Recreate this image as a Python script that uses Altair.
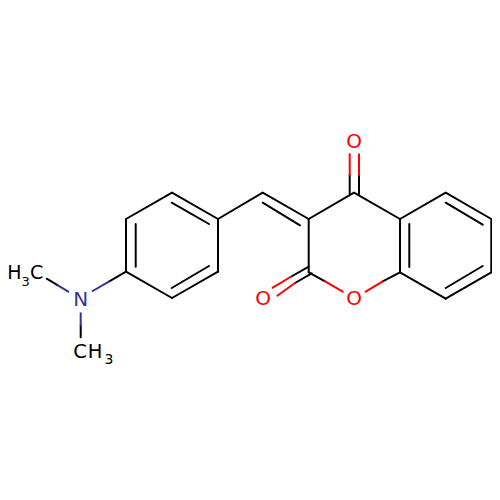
import altair as alt
import pandas as pd

black_bonds = [
    (172,192.7,218,219),(218,219,218,271.7),(218,271.7,172,298),
    (172,298,126,271.7),(126,271.7,126,219),(126,219,172,192.7),
    (135.7,224,135.7,266.7),(171.7,202.7,209,224),(171.7,288,209,266),
    (218,219,262.7,192.7),(262.7,192.7,308.7,219),(262.7,202.7,300,225.3),
    (308.7,219,354,192.7),(354,192.7,400,219),(400,219,400,272.3),
    (400,219,445.7,192.7),(445.7,192.7,491.3,219),(491.3,219,491.3,272.3),
    (491.3,272.3,445.7,298.7),(445.7,298.7,400,272.3),
    (409.3,224,409.3,267),(445.7,202.7,482.7,224.7),(445.7,288,482.7,266),
    (308.7,219,308.7,272.3),
    (349.7,194,349.7,175),(359,194,359,175),
    (126,271.7,109.3,281.3),(57.5,285.2,46.7,278.7),(80.7,325,80.7,337.3),
    (308.7,266.7,290.5,277),(311.7,273.3,295,283),
    (308.7,272.3,325,281.3),(400,272.3,382.7,281.3),
]
red_bonds = [
    (349.7,175,349.7,154.3),(359,175,359,154.3),
    (290.5,277,272.7,287.7),(295,283,277.3,295.7),
    (325,281.3,342.7,291.7),(382.7,281.3,365.7,291.7),
]
blue_bonds = [
    (109.3,281.3,92.7,291),(68.3,291.7,57.5,285.2),(80.7,313.3,80.7,325),
]

label_text = ["H","3","C","N","C","H","3","O","O","O"]
label_x = [14.3,25.6,36.6,80.7,80,95,109,354,263,354]
label_y = [272.7,282,272.7,300,352,352,360,142,299.3,299.3]
label_size = [19,13,19,20,19.5,19.5,14,20,20,20]
label_kind = ["C","C","C","N","C","C","C","O","O","O"]

kinds = ["C","N","O"]
colours = ["#000000","#33339a","#ff0000"]

rows = [(*b,"C") for b in black_bonds]+[(*b,"O") for b in red_bonds]+[(*b,"N") for b in blue_bonds]
bonds = pd.DataFrame(rows,columns=["x","y","x2","y2","k"])
labels = pd.DataFrame({"x":label_x,"y":label_y,"t":label_text,"s":label_size,"k":label_kind})

xs = alt.Scale(domain=[8,508],range=[0,500])
ys = alt.Scale(domain=[8,508],range=[0,500])
cs = alt.Scale(domain=kinds,range=colours)

rules = alt.Chart(bonds).mark_rule(strokeWidth=2,strokeCap="round",clip=False).encode(
    x=alt.X("x:Q",scale=xs,axis=None),
    y=alt.Y("y:Q",scale=ys,axis=None),
    x2="x2:Q",y2="y2:Q",
    color=alt.Color("k:N",scale=cs,legend=None),
)
texts = alt.Chart(labels).mark_text(font="DejaVu Sans",align="center",baseline="middle",clip=False).encode(
    x=alt.X("x:Q",scale=xs,axis=None),
    y=alt.Y("y:Q",scale=ys,axis=None),
    text="t:N",
    size=alt.Size("s:Q",scale=None,legend=None),
    color=alt.Color("k:N",scale=cs,legend=None),
)
chart = (rules+texts).properties(
    width=484,height=484,padding=0,background="white",
    autosize=alt.AutoSizeParams(type="none"),
).configure_view(stroke=None)
chart.save("out.html", embed_options={"renderer":"svg","actions":False})
